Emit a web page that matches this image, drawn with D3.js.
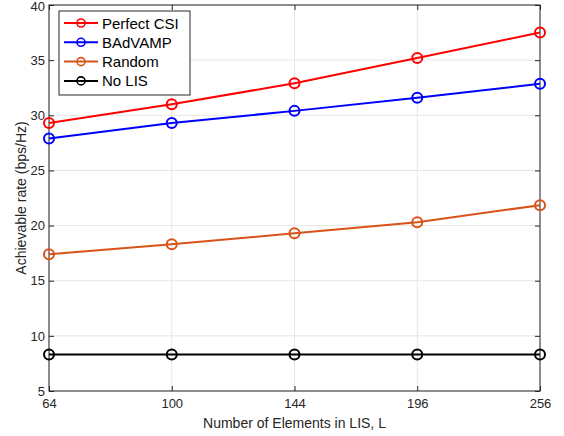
<!DOCTYPE html>
<html><head><meta charset="utf-8">
<script src="https://cdn.jsdelivr.net/npm/d3@7"></script>
<style>body{margin:0;background:#fff}svg{display:block}text{font-family:"Liberation Sans",Arial,sans-serif}</style>
</head><body><svg id="c" width="564" height="436"></svg>
<script>
const categories = ["64","100","144","196","256"];
const perfectCSI = [29.3, 31.0, 32.9, 35.2, 37.5];
const badvamp = [27.9, 29.3, 30.4, 31.6, 32.85];
const randomLIS = [17.4, 18.3, 19.3, 20.3, 21.85];
const noLIS = [8.3, 8.3, 8.3, 8.3, 8.3];
const yTicks = [5,10,15,20,25,30,35,40];
const seriesNames = ["Perfect CSI","BAdVAMP","Random","No LIS"];
const seriesColors = ["#ff0000","#0000ff","#D95319","#000000"];
const seriesData = [perfectCSI, badvamp, randomLIS, noLIS];

const svg = d3.select("#c");
const L=49,R=540,T=5,B=391;
const x = d3.scalePoint().domain(categories).range([L,R]);
const y = d3.scaleLinear().domain([5,40]).range([B,T]);
const axc="#262626";
// grid
const g = svg.append("g");
g.selectAll(".gx").data(categories).enter().append("line")
 .attr("x1",d=>x(d)).attr("x2",d=>x(d)).attr("y1",T).attr("y2",B).attr("stroke","#e6e6e6").attr("stroke-width",1);
g.selectAll(".gy").data(yTicks).enter().append("line")
 .attr("x1",L).attr("x2",R).attr("y1",d=>y(d)).attr("y2",d=>y(d)).attr("stroke","#e6e6e6").attr("stroke-width",1);
// axes
const xa = svg.append("g").attr("transform",`translate(0,${B})`).call(d3.axisBottom(x).tickSizeInner(-5).tickSizeOuter(0).tickPadding(8));
const xt = svg.append("g").attr("transform",`translate(0,${T})`).call(d3.axisTop(x).tickSizeInner(-5).tickSizeOuter(0).tickFormat(""));
const ya = svg.append("g").attr("transform",`translate(${L},0)`).call(d3.axisLeft(y).tickValues(yTicks).tickSizeInner(-5).tickSizeOuter(0).tickPadding(4));
const yr = svg.append("g").attr("transform",`translate(${R},0)`).call(d3.axisRight(y).tickValues(yTicks).tickSizeInner(-5).tickSizeOuter(0).tickFormat(""));
[xa,xt,ya,yr].forEach(a=>{a.selectAll("path").remove();a.selectAll("line").attr("stroke",axc);a.selectAll("text").attr("fill",axc).style("font-size","13px").style("font-family","'Liberation Sans',Arial,sans-serif");});
ya.selectAll("text").filter(d=>d===40).attr("dy","0.45em");
svg.append("rect").attr("x",L).attr("y",T).attr("width",R-L).attr("height",B-T).attr("fill","none").attr("stroke",axc).attr("stroke-width",1);
// labels
svg.append("text").attr("x",(L+R)/2).attr("y",428).attr("text-anchor","middle").attr("fill",axc).style("font-size","14px").text("Number of Elements in LIS, L");
svg.append("text").attr("transform",`translate(26,${(T+B)/2}) rotate(-90)`).attr("text-anchor","middle").attr("fill",axc).style("font-size","14px").text("Achievable rate (bps/Hz)");
// series
const line = d3.line().x((d,i)=>x(categories[i])).y(d=>y(d));
seriesData.forEach((s,k)=>{
  svg.append("path").datum(s).attr("d",line).attr("fill","none").attr("stroke",seriesColors[k]).attr("stroke-width",2);
  svg.selectAll(null).data(s).enter().append("circle").attr("cx",(d,i)=>x(categories[i])).attr("cy",d=>y(d)).attr("r",5)
   .attr("fill","none").attr("stroke",seriesColors[k]).attr("stroke-width",2);
});
// legend
const lg = svg.append("g");
lg.append("rect").attr("x",59).attr("y",11).attr("width",131).attr("height",84).attr("fill","#fff").attr("stroke",axc).attr("stroke-width",1);
seriesNames.forEach((n,k)=>{
  const yy = 23 + k*19.3;
  lg.append("line").attr("x1",64).attr("x2",98).attr("y1",yy).attr("y2",yy).attr("stroke",seriesColors[k]).attr("stroke-width",2);
  lg.append("circle").attr("cx",81).attr("cy",yy).attr("r",4).attr("fill","none").attr("stroke",seriesColors[k]).attr("stroke-width",1.6);
  lg.append("text").attr("x",102).attr("y",yy+5.5).attr("fill","#000").style("font-size","15px").text(n);
});
</script></body></html>
